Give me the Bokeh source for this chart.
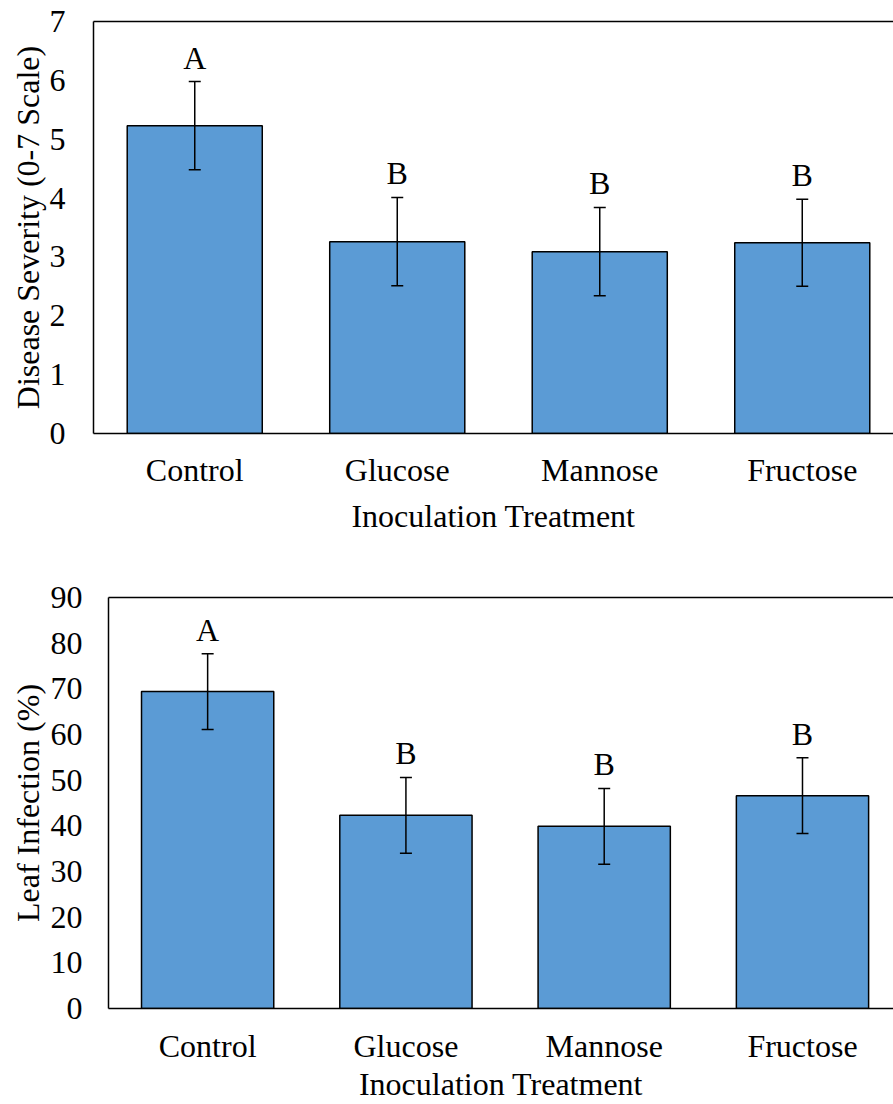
from bokeh.plotting import figure
from bokeh.models import ColumnDataSource, Range1d, FixedTicker, Whisker, TeeHead, LinearAxis
from bokeh.layouts import column
from bokeh.core.properties import value
from bokeh.embed import file_html
from bokeh.resources import INLINE

categories = ["Control", "Glucose", "Mannose", "Fructose"]
severity = [5.23, 3.26, 3.09, 3.24]
severity_err = [0.75, 0.75, 0.75, 0.74]
severity_letters = ["A", "B", "B", "B"]
infection = [69.4, 42.3, 39.9, 46.6]
infection_err = [8.3, 8.3, 8.3, 8.3]
infection_letters = ["A", "B", "B", "B"]
x_title = "Inoculation Treatment"

FONT = "Liberation Serif"
BLUE = "#5B9BD5"
FS = "32px"


def make_panel(vals, errs, letters, ytitle, ymax, ystep, height, top, bottom, left, xend,
               xl_stand, xt_stand, yl_stand, yt_stand):
    xs = list(range(len(categories)))
    src = ColumnDataSource(dict(
        x=xs, top=vals,
        upper=[v + e for v, e in zip(vals, errs)],
        lower=[v - e for v, e in zip(vals, errs)],
        letter=letters,
    ))
    p = figure(width=893, height=height, output_backend="svg", toolbar_location=None,
               x_range=Range1d(-0.5, xend), y_range=Range1d(0, ymax),
               min_border_top=top, min_border_bottom=bottom, min_border_left=left,
               min_border_right=0, frame_align=False)
    p.outline_line_color = None
    p.xgrid.grid_line_color = None
    p.ygrid.grid_line_color = None
    p.vbar(x="x", top="top", width=0.667, source=src, fill_color=BLUE,
           line_color="black", line_width=1.5)
    w = Whisker(base="x", upper="upper", lower="lower", source=src, level="overlay",
                line_color="black", line_width=1.5,
                upper_head=TeeHead(size=12, line_color="black", line_width=1.5),
                lower_head=TeeHead(size=12, line_color="black", line_width=1.5))
    p.add_layout(w)
    p.text(x="x", y="upper", text="letter", source=src, text_align="center",
           text_baseline="bottom", y_offset=-6, text_font=value(FONT),
           text_font_size=FS, text_color="black")

    xa = p.xaxis[0]
    xa.ticker = FixedTicker(ticks=xs)
    xa.major_label_overrides = {i: c for i, c in enumerate(categories)}
    xa.axis_label = x_title
    ya = p.yaxis[0]
    ya.ticker = FixedTicker(ticks=list(range(0, ymax + 1, ystep)))
    ya.axis_label = ytitle
    for ax in (xa, ya):
        ax.major_tick_line_color = None
        ax.minor_tick_line_color = None
        ax.major_tick_out = 0
        ax.major_tick_in = 0
        ax.minor_tick_out = 0
        ax.minor_tick_in = 0
        ax.axis_line_color = "black"
        ax.axis_line_width = 1.5
        ax.major_label_text_font = FONT
        ax.major_label_text_font_size = FS
        ax.major_label_text_color = "black"
        ax.major_label_text_line_height = 1.0
        ax.axis_label_text_font = FONT
        ax.axis_label_text_font_size = FS
        ax.axis_label_text_font_style = "normal"
        ax.axis_label_text_color = "black"
        ax.axis_label_text_line_height = 1.0
    xa.major_label_standoff = xl_stand
    xa.axis_label_standoff = xt_stand
    ya.major_label_standoff = yl_stand
    ya.axis_label_standoff = yt_stand

    topax = LinearAxis(ticker=FixedTicker(ticks=[]), axis_line_color="black",
                       axis_line_width=1.5, major_tick_line_color=None,
                       minor_tick_line_color=None, major_label_text_font_size="0px",
                       major_tick_out=0, major_tick_in=0)
    p.add_layout(topax, "above")
    return p


p1 = make_panel(severity, severity_err, severity_letters, "Disease Severity (0-7 Scale)",
                7, 1, 560, 21, 127, 93, 3.4506, 18, 7, 28, 1)
p2 = make_panel(infection, infection_err, infection_letters, "Leaf Infection (%)",
                90, 10, 544, 37, 96, 108, 3.459, 19, -1, 26, 2)

layout = column(p1, p2, spacing=0)
open("out.html", "w").write(file_html(layout, INLINE))
